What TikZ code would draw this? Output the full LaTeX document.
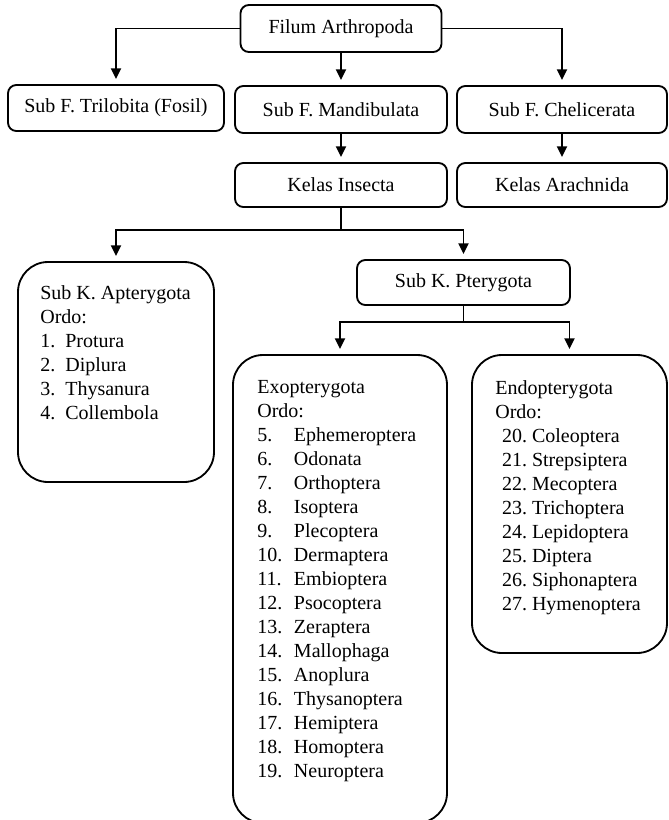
\documentclass[tikz,border=0pt]{standalone}
\usepackage{fontspec}
\setmainfont{Liberation Serif}
\usepackage{tikz}
\usetikzlibrary{positioning, arrows.meta, calc}
\def\boxline{1.1pt}
\tikzstyle{arrow} = [black, -{Triangle[length=6.5pt, width=6pt]}, line width=\boxline, shorten >=3pt]
\tikzstyle{connector} = [black, -, line width=\boxline]
\newcommand{\tikztaxonnode}[2]{\node[
  draw, rounded corners=5pt, line width=\boxline, minimum width=#1, minimum height=#2, inner sep=0,
  font=\fontsize{12pt}{14.4pt}\selectfont
]}
\newcommand{\tikzgroupnode}[2]{\node[
  draw, rounded corners=18pt, line width=\boxline, minimum width=#1, minimum height=#2, inner sep=0
]}
\newcommand{\tikzlistnode}{\node[
  anchor=north west, align=left, inner sep=0, font=\fontsize{12pt}{14.4pt}\selectfont
]}
\newcommand{\ordo}[2]{\makebox[#1][l]{#2}}

\begin{document}
\begin{tikzpicture}[x=0.6pt, y=-0.6pt]
    \useasboundingbox (0, 0) rectangle (668, 820);

    % nodes
    \tikztaxonnode{120.6pt}{28.2pt} at (341, 28.5)   (filum)   {Filum Arthropoda};
    \tikztaxonnode{129.6pt}{27.6pt} at (116, 108)    (trilo)   {Sub F. Trilobita (Fosil)};
    \tikztaxonnode{127.2pt}{28.2pt} at (341, 109.5)  (mandi)   {Sub F. Mandibulata};
    \tikztaxonnode{126pt}{28.2pt}   at (562, 109.5)  (cheli)   {Sub F. Chelicerata};
    \tikztaxonnode{127.2pt}{26.4pt} at (341, 185)    (insecta) {Kelas Insecta};
    \tikztaxonnode{126pt}{26.4pt}   at (562, 185)    (arach)   {Kelas Arachnida};
    \tikztaxonnode{127.8pt}{27pt}   at (463.5, 282.5) (ptery)  {Sub K. Pterygota};

    \tikzgroupnode{117.6pt}{132pt}  at (116, 372)    (apter) {};
    \tikzgroupnode{128.4pt}{280.8pt} at (340, 589)   (exo)   {};
    \tikzgroupnode{117pt}{178.8pt}  at (569.5, 504)  (endo)  {};

    % lists
    \tikzlistnode at (40, 285) (apterlist) {Sub K. Apterygota\\ Ordo:\\
      \ordo{15pt}{1.}Protura\\ \ordo{15pt}{2.}Diplura\\
      \ordo{15pt}{3.}Thysanura\\ \ordo{15pt}{4.}Collembola};
    \tikzlistnode at (257, 380) (exolist) {Exopterygota\\ Ordo:\\
      \ordo{22pt}{5.}Ephemeroptera\\ \ordo{22pt}{6.}Odonata\\
      \ordo{22pt}{7.}Orthoptera\\ \ordo{22pt}{8.}Isoptera\\
      \ordo{22pt}{9.}Plecoptera\\ \ordo{22pt}{10.}Dermaptera\\
      \ordo{22pt}{11.}Embioptera\\ \ordo{22pt}{12.}Psocoptera\\
      \ordo{22pt}{13.}Zeraptera\\ \ordo{22pt}{14.}Mallophaga\\
      \ordo{22pt}{15.}Anoplura\\ \ordo{22pt}{16.}Thysanoptera\\
      \ordo{22pt}{17.}Hemiptera\\ \ordo{22pt}{18.}Homoptera\\
      \ordo{22pt}{19.}Neuroptera};
    \tikzlistnode at (495, 380) (endolist) {Endopterygota\\ Ordo:\\
      \hspace{4pt}\ordo{18pt}{20.}Coleoptera\\ \hspace{4pt}\ordo{18pt}{21.}Strepsiptera\\
      \hspace{4pt}\ordo{18pt}{22.}Mecoptera\\ \hspace{4pt}\ordo{18pt}{23.}Trichoptera\\
      \hspace{4pt}\ordo{18pt}{24.}Lepidoptera\\ \hspace{4pt}\ordo{18pt}{25.}Diptera\\
      \hspace{4pt}\ordo{18pt}{26.}Siphonaptera\\ \hspace{4pt}\ordo{18pt}{27.}Hymenoptera};

    % forks
    \coordinate (fork1) at (341, 230);
    \coordinate (fork2) at (463.5, 322);

    % arrows
    \draw[arrow]     (filum.west)   -| (trilo.north);
    \draw[arrow]     (filum.east)   -| (cheli.north);
    \draw[arrow]     (filum.south)  -- (mandi.north);
    \draw[arrow]     (mandi.south)  -- (insecta.north);
    \draw[arrow]     (cheli.south)  -- (arach.north);
    \draw[connector] (insecta.south) -- (fork1);
    \draw[arrow]     (fork1)        -| (apter.north);
    \draw[arrow]     (fork1)        -| (ptery.north);
    \draw[connector] (ptery.south)  -- (fork2);
    \draw[arrow]     (fork2)        -| (exo.north);
    \draw[arrow]     (fork2)        -| (endo.north);
\end{tikzpicture}
\end{document}
